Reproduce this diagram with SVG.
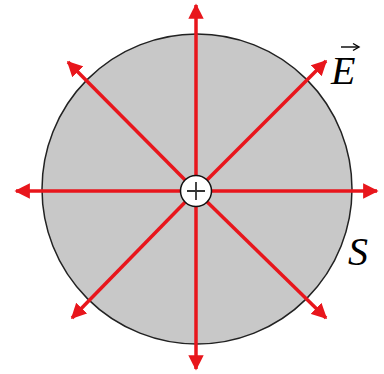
<svg xmlns="http://www.w3.org/2000/svg" width="384" height="374" viewBox="0 0 384 374">
<defs>
<style>
.f{stroke:#e8161c;stroke-width:3.5;fill:none}
.lbl{font-family:"Liberation Serif",serif;font-style:italic;font-size:40px;fill:#000}
</style>
<marker id="ah" viewBox="0 0 10 10" refX="9" refY="5" markerWidth="4.4" markerHeight="4.4" orient="auto">
<path d="M0,0 L10,5 L0,10 Z" fill="#e8161c"/>
</marker>
</defs>
<rect width="384" height="374" fill="#fff"/>
<g id="surface">
<circle cx="197" cy="189" r="155" fill="#c8c8c8" stroke="#222" stroke-width="1.5"/>
</g>
<g id="field-lines">
<line class="f" x1="196" y1="191" x2="196" y2="5" marker-end="url(#ah)"/>
<line class="f" x1="196" y1="191" x2="196" y2="369" marker-end="url(#ah)"/>
<line class="f" x1="196" y1="191" x2="16" y2="191" marker-end="url(#ah)"/>
<line class="f" x1="196" y1="191" x2="377" y2="191" marker-end="url(#ah)"/>
<line class="f" x1="196" y1="191" x2="326" y2="61" marker-end="url(#ah)"/>
<line class="f" x1="196" y1="191" x2="68" y2="62" marker-end="url(#ah)"/>
<line class="f" x1="196" y1="191" x2="72" y2="318" marker-end="url(#ah)"/>
<line class="f" x1="196" y1="191" x2="326" y2="318" marker-end="url(#ah)"/>
</g>
<g id="charge">
<circle cx="196" cy="191" r="15.5" fill="#fff" stroke="#111" stroke-width="1.5"/>
<path d="M187,191 H205 M196,182 V200" stroke="#333" stroke-width="1.8"/>
</g>
<g id="label-E">
<text class="lbl" x="331" y="84">E</text>
<path d="M341,47 H358" stroke="#000" stroke-width="1.4"/>
<path d="M353,43.5 L359,47 L353,50.5" fill="none" stroke="#000" stroke-width="1.4"/>
</g>
<g id="label-S">
<text class="lbl" x="348" y="265">S</text>
</g>
</svg>
